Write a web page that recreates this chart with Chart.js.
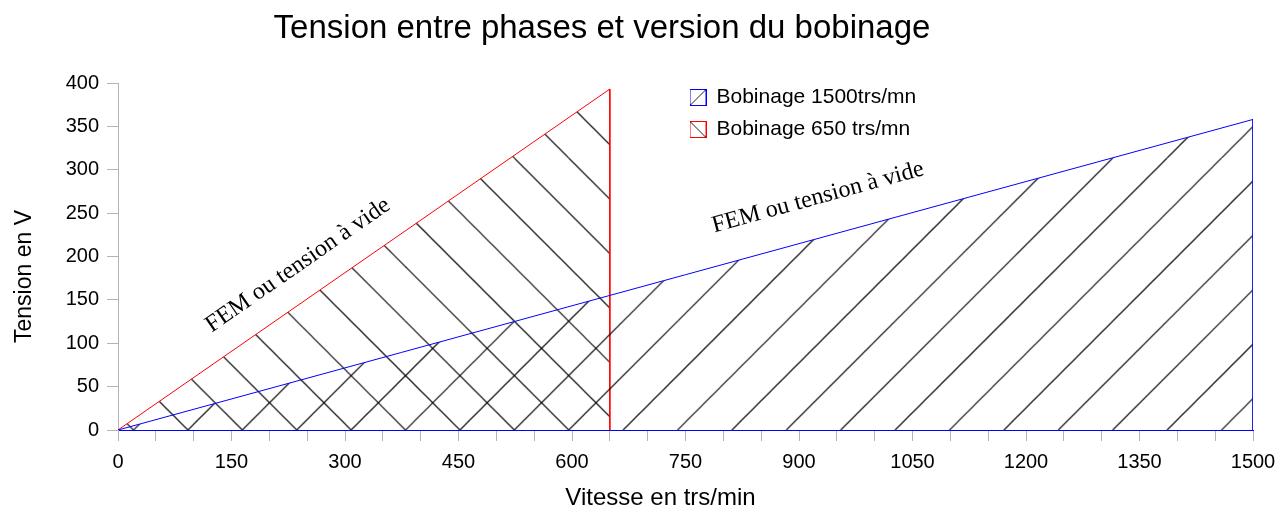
<!DOCTYPE html>
<html><head><meta charset="utf-8">
<script src="https://cdn.jsdelivr.net/npm/chart.js@4.4.1/dist/chart.umd.min.js"></script>
<style>html,body{margin:0;padding:0;background:#fff;}</style>
</head><body>
<canvas id="c" width="1278" height="513"></canvas>
<script>
// ---- data ----
const chartTitle = 'Tension entre phases et version du bobinage';
const xAxisTitle = 'Vitesse en trs/min';
const yAxisTitle = 'Tension en V';
const seriesLabels = ['Bobinage 1500trs/mn', 'Bobinage 650 trs/mn'];
const speed1500 = [0, 1500, 1500];
const volt1500 = [0, 358, 0];
const speed650 = [0, 650, 650];
const volt650 = [0, 393, 0];
const xMin = 0, xMax = 1500, xStep = 50, xLabelEvery = 150;
const yMin = 0, yMax = 400, yStep = 50;
const noteText = ['FEM ou tension à vide', 'FEM ou tension à vide'];
const noteSpeed = [238, 925];
const noteVolt = [190, 268];
const noteSeries = [1, 0];

// ---- styles ----
const FONT = '"Liberation Sans", Arial, sans-serif';
const HATCH = '#000000';
const SPACING = 54.4, NT = 5, TILE = 272;

function hatchTile(dir) {
  const c = document.createElement('canvas');
  c.width = TILE; c.height = TILE;
  const g = c.getContext('2d');
  g.strokeStyle = HATCH; g.lineWidth = 1.1;
  for (let k = -2 * NT; k <= 2 * NT; k++) {
    const off = k * SPACING;
    g.beginPath();
    if (dir > 0) { g.moveTo(off, 0); g.lineTo(off - TILE, TILE); }
    else { g.moveTo(off, 0); g.lineTo(off + TILE, TILE); }
    g.stroke();
  }
  return c;
}
function legendIcon(color, dir) {
  const c = document.createElement('canvas');
  c.width = 17; c.height = 17;
  const g = c.getContext('2d');
  g.fillStyle = '#fff'; g.fillRect(0, 0, 17, 17);
  g.strokeStyle = '#222'; g.lineWidth = 1;
  g.beginPath();
  if (dir > 0) { g.moveTo(1, 16); g.lineTo(16, 1); } else { g.moveTo(1, 1); g.lineTo(16, 16); }
  g.stroke();
  g.strokeStyle = color; g.strokeRect(0.5, 0.5, 16, 16);
  return c;
}

const ctx = document.getElementById('c').getContext('2d');
const pat1500 = ctx.createPattern(hatchTile(1), 'repeat');
const pat650 = ctx.createPattern(hatchTile(-1), 'repeat');
const icons = [legendIcon('#0000ff', 1), legendIcon('#ff0000', -1)];

const layoutPlugin = {
  id: 'layoutTweak',
  afterLayout(chart) {
    const lg = chart.legend;
    if (lg) {
      lg.left = 679; lg.top = 76; lg.right = 1100; lg.bottom = 300;
      lg.width = 421; lg.height = 224;
    }
    const tb = chart.titleBlock;
    if (tb) { tb.left -= 37; tb.right -= 37; }
  },
  beforeDraw(chart) {
    const wrap = (s, dx, dy) => {
      if (!s || s._wrappedTitle) return;
      const orig = s.drawTitle;
      s.drawTitle = function () {
        this.ctx.save(); this.ctx.translate(dx, dy); orig.call(this); this.ctx.restore();
      };
      s._wrappedTitle = true;
    };
    wrap(chart.scales.x, -25, 0);
    wrap(chart.scales.y, 0, 20);
  },
  beforeDatasetsDraw(chart) {
    const x0 = chart.chartArea.left + 15.5;
    const y0 = chart.scales.y.getPixelForValue(0);
    const m = new DOMMatrix([1, 0, 0, 1, x0, y0]);
    pat1500.setTransform(m);
    pat650.setTransform(m);
  },
  afterDatasetsDraw(chart) {
    const c = chart.ctx, xs = chart.scales.x, ys = chart.scales.y;
    c.save();
    c.font = '24px "Liberation Serif", "Times New Roman", serif';
    c.fillStyle = '#000';
    c.textAlign = 'center'; c.textBaseline = 'middle';
    noteText.forEach((t, i) => {
      const ds = chart.data.datasets[noteSeries[i]].data;
      const ang = Math.atan2(ys.getPixelForValue(ds[1].y) - ys.getPixelForValue(ds[0].y),
                             xs.getPixelForValue(ds[1].x) - xs.getPixelForValue(ds[0].x));
      c.save();
      c.translate(xs.getPixelForValue(noteSpeed[i]), ys.getPixelForValue(noteVolt[i]));
      c.rotate(ang);
      c.fillText(t, 0, 0);
      c.restore();
    });
    c.restore();
  }
};

const toPts = (xs, ys) => xs.map((x, i) => ({ x, y: ys[i] }));

new Chart(ctx, {
  type: 'line',
  data: {
    datasets: [
      { label: seriesLabels[0], data: toPts(speed1500, volt1500), borderColor: '#0000ff', borderWidth: 1,
        backgroundColor: pat1500, fill: 'origin', pointRadius: 0, tension: 0 },
      { label: seriesLabels[1], data: toPts(speed650, volt650), borderColor: '#ff0000', borderWidth: 1,
        backgroundColor: pat650, fill: 'origin', pointRadius: 0, tension: 0 }
    ]
  },
  options: {
    responsive: false, animation: false, devicePixelRatio: 1,
    layout: { padding: { left: 0, right: 0, top: 0, bottom: 0 } },
    plugins: {
      title: { display: true, text: chartTitle, color: '#000',
        font: { family: FONT, size: 33, weight: 'normal' }, padding: { top: 9, bottom: 34.4 } },
      legend: {
        position: 'chartArea', align: 'start',
        labels: {
          usePointStyle: true, pointStyleWidth: 16, padding: 11, color: '#000',
          font: { family: FONT, size: 21 },
          generateLabels: (chart) => chart.data.datasets.map((d, i) => ({
            text: d.label, pointStyle: icons[i], fillStyle: '#fff', strokeStyle: d.borderColor,
            lineWidth: 0, datasetIndex: i, fontColor: '#000', hidden: false
          }))
        }
      },
      tooltip: { enabled: false }
    },
    scales: {
      x: {
        type: 'linear', min: xMin, max: xMax,
        afterFit: (s) => { s.height = 83; s.paddingRight = 25; s.paddingLeft = 0; },
        ticks: { stepSize: xStep, autoSkip: false, maxRotation: 0, color: '#000', padding: 9,
          font: { family: FONT, size: 20 },
          callback: (v) => (v % xLabelEvery === 0 ? String(v) : '') },
        grid: { drawOnChartArea: false, drawTicks: true, tickLength: 11, color: '#b3b3b3' },
        border: { color: '#0000ff', width: 1 },
        title: { display: true, text: xAxisTitle, color: '#000', font: { family: FONT, size: 24 },
          padding: { top: 0, bottom: 0 } }
      },
      y: {
        min: yMin, max: yMax,
        afterFit: (s) => { s.width = 118; },
        ticks: { stepSize: yStep, color: '#000', padding: 8, font: { family: FONT, size: 20 } },
        grid: { drawOnChartArea: false, drawTicks: true, tickLength: 11, color: '#b3b3b3' },
        border: { color: '#b3b3b3', width: 1 },
        title: { display: true, text: yAxisTitle, color: '#000', font: { family: FONT, size: 23 },
          padding: { top: 11, bottom: 0 } }
      }
    }
  },
  plugins: [layoutPlugin]
});
</script>
</body></html>
